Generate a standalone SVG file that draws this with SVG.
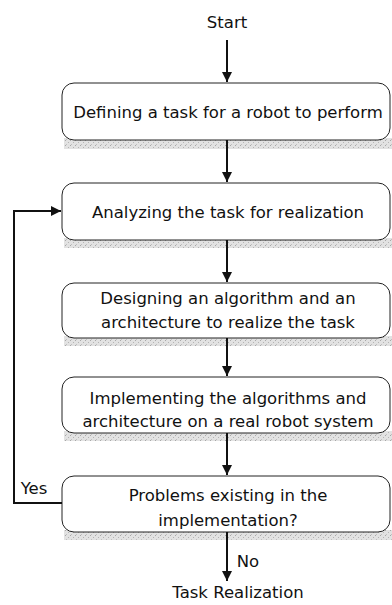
<svg xmlns="http://www.w3.org/2000/svg" width="392" height="605" viewBox="0 0 392 605">
<defs>
<style>
text{font-family:"DejaVu Sans","Liberation Sans",sans-serif;font-size:16.5px;fill:#111;text-anchor:middle}
.box{fill:#fff;stroke:#222;stroke-width:1}
.sh{fill:url(#stip)}
.ln{fill:none;stroke:#111;stroke-width:2}
</style>
<pattern id="stip" width="5" height="5" patternUnits="userSpaceOnUse">
<rect width="5" height="5" fill="#e2e2e2"/>
<rect x="0" y="0" width="1" height="1" fill="#a8a8a8"/>
<rect x="3" y="2" width="1" height="1" fill="#b4b4b4"/>
<rect x="1" y="4" width="1" height="1" fill="#c0c0c0"/>
</pattern>
<marker id="ah" viewBox="0 0 10 10" refX="10" refY="5" markerWidth="5" markerHeight="5" orient="auto" markerUnits="strokeWidth">
<path d="M0,0 L10,5 L0,10 z" fill="#111"/>
</marker>
</defs>
<rect width="392" height="605" fill="#fff"/>
<g id="start"><text x="227" y="28">Start</text></g>
<g id="n1"><rect class="sh" x="64" y="138" width="328" height="11"/><rect class="box" x="62" y="83" width="328" height="57" rx="12"/><text x="228" y="118">Defining a task for a robot to perform</text></g>
<g id="n2"><rect class="sh" x="64" y="238" width="328" height="10"/><rect class="box" x="62" y="183" width="328" height="57" rx="12"/><text x="228" y="218">Analyzing the task for realization</text></g>
<g id="n3"><rect class="sh" x="64" y="336" width="328" height="10"/><rect class="box" x="62" y="283" width="328" height="55" rx="12"/><text x="228" y="304">Designing an algorithm and an</text><text x="228" y="328">architecture to realize the task</text></g>
<g id="n4"><rect class="sh" x="64" y="431" width="328" height="10"/><rect class="box" x="62" y="377" width="328" height="56" rx="12"/><text x="228" y="404">Implementing the algorithms and</text><text x="228" y="427">architecture on a real robot system</text></g>
<g id="n5"><rect class="sh" x="64" y="530" width="328" height="10"/><rect class="box" x="62" y="476" width="328" height="56" rx="12"/><text x="228" y="501">Problems existing in the</text><text x="228" y="526">implementation?</text></g>
<g id="end"><text x="238" y="598">Task Realization</text></g>
<g id="connectors">
<line class="ln" x1="227" y1="40" x2="227" y2="82" marker-end="url(#ah)"/>
<line class="ln" x1="227" y1="140" x2="227" y2="182" marker-end="url(#ah)"/>
<line class="ln" x1="227" y1="240" x2="227" y2="282" marker-end="url(#ah)"/>
<line class="ln" x1="227" y1="338" x2="227" y2="376" marker-end="url(#ah)"/>
<line class="ln" x1="227" y1="433" x2="227" y2="475" marker-end="url(#ah)"/>
<line class="ln" x1="227" y1="532" x2="227" y2="581" marker-end="url(#ah)"/>
<polyline class="ln" points="62,503 14,503 14,211 61,211" marker-end="url(#ah)"/>
<text x="34" y="494">Yes</text>
<text x="248" y="567">No</text>
</g>
</svg>
